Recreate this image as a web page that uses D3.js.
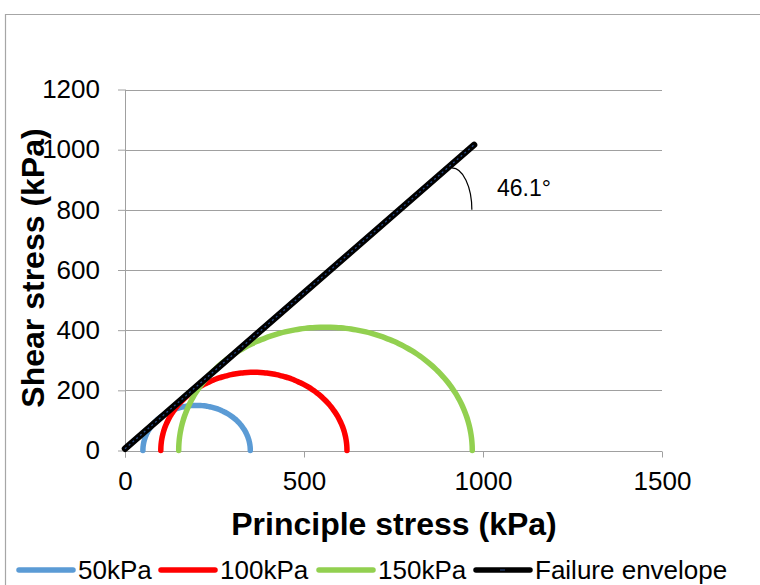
<!DOCTYPE html>
<html>
<head>
<meta charset="utf-8">
<script src="https://cdn.jsdelivr.net/npm/d3@7"></script>
<style>
  html, body { margin: 0; padding: 0; background: #fff; }
  svg { display: block; font-family: "Liberation Sans", Arial, sans-serif; }
</style>
</head>
<body>
<svg id="chart" width="760" height="585"></svg>
<script>
// Mohr circles: confining pressure label, minor and major principal stress (kPa)
const seriesNames = ["50kPa", "100kPa", "150kPa"];
const sigma3 = [50, 100, 150];
const sigma1 = [350, 620, 970];
const seriesColors = ["#5b9bd5", "#ff0000", "#92d050"];

// Failure envelope end points [normal stress, shear stress]
const envelopeX = [0, 975];
const envelopeY = [6, 1016];
const frictionAngleLabel = "46.1°";

const xTicks = [0, 500, 1000, 1500];
const yTicks = [0, 200, 400, 600, 800, 1000, 1200];

const svg = d3.select("#chart");
const x = d3.scaleLinear().domain([0, 1500]).range([125, 662]);
const y = d3.scaleLinear().domain([0, 1200]).range([450.5, 89.5]);
const gridColor = "#a0a0a0";

// chart frame
svg.append("path")
  .attr("d", "M5.5,585 V14.5 H760")
  .attr("fill", "none").attr("stroke", "#a6a6a6").attr("stroke-width", 1.2);

// horizontal gridlines
svg.append("g").selectAll("line").data(yTicks.filter(d => d > 0)).join("line")
  .attr("x1", x(0)).attr("x2", x(1500))
  .attr("y1", d => Math.round(y(d)) + 0.5).attr("y2", d => Math.round(y(d)) + 0.5)
  .attr("stroke", gridColor).attr("stroke-width", 1);

// y axis
const yAxis = svg.append("g").attr("transform", `translate(${x(0)},0)`)
  .call(d3.axisLeft(y).tickValues(yTicks).tickSize(7).tickPadding(18).tickFormat(d3.format("d")));
yAxis.select(".domain").attr("stroke", gridColor).attr("d", `M0.5,${y(1200)}V${y(0) + 7}`);
yAxis.selectAll(".tick line").attr("stroke", gridColor);
yAxis.selectAll(".tick text").attr("font-size", 26).attr("fill", "#000")
  .attr("font-family", "Liberation Sans, Arial, sans-serif");

// x axis
const xAxis = svg.append("g").attr("transform", `translate(0,${Math.round(y(0)) + 0.5})`)
  .call(d3.axisBottom(x).tickValues(xTicks).tickSize(6).tickPadding(14).tickFormat(d3.format("d")));
xAxis.select(".domain").attr("stroke", gridColor).attr("d", `M${x(0)},0H${x(1500)}`);
xAxis.selectAll(".tick line").attr("stroke", gridColor);
xAxis.selectAll(".tick text").attr("font-size", 26).attr("fill", "#000")
  .attr("font-family", "Liberation Sans, Arial, sans-serif");

// axis titles
svg.append("text").attr("x", 394).attr("y", 535).attr("text-anchor", "middle")
  .attr("font-size", 32).attr("font-weight", "bold").text("Principle stress (kPa)");
svg.append("text").attr("transform", "translate(44,268) rotate(-90)").attr("text-anchor", "middle")
  .attr("font-size", 32).attr("font-weight", "bold").text("Shear stress (kPa)");

// Mohr semicircles
const angles = d3.range(0, 181, 2).map(a => a * Math.PI / 180);
const circleLine = d3.line().x(d => x(d[0])).y(d => y(d[1])).curve(d3.curveCatmullRom);
sigma3.forEach((s3, i) => {
  const c = (sigma1[i] + s3) / 2, r = (sigma1[i] - s3) / 2;
  const pts = angles.map(t => [c + r * Math.cos(t), r * Math.sin(t)]);
  svg.append("path").attr("d", circleLine(pts))
    .attr("fill", "none").attr("stroke", seriesColors[i])
    .attr("stroke-width", 5.5).attr("stroke-linecap", "round");
});

// failure envelope
const envPts = envelopeX.map((v, i) => [v, envelopeY[i]]);
const envLine = d3.line().x(d => x(d[0])).y(d => y(d[1]));
svg.append("path").attr("d", envLine(envPts))
  .attr("fill", "none").attr("stroke", "#000").attr("stroke-width", 6.5).attr("stroke-linecap", "round");
svg.append("path").attr("d", envLine(envPts))
  .attr("fill", "none").attr("stroke", "#2a4d8a").attr("stroke-width", 1.3)
  .attr("stroke-dasharray", "2,3");

// friction angle marker
const ax = x(913), ay = y(800), rx = 20, ry = 42;
svg.append("path")
  .attr("d", `M${ax},${ay - ry} A${rx},${ry} 0 0 1 ${ax + rx},${ay}`)
  .attr("fill", "none").attr("stroke", "#000").attr("stroke-width", 1.2);
svg.append("text").attr("x", 497).attr("y", 196).attr("font-size", 23)
  .attr("font-family", "Liberation Sans, Arial, sans-serif").text(frictionAngleLabel);

// legend
const legendItems = seriesNames.map((n, i) => ({ name: n, color: seriesColors[i] }))
  .concat([{ name: "Failure envelope", color: "#000" }]);
const legendX = [18, 160, 318, 475];
const lg = svg.append("g");
legendItems.forEach((d, i) => {
  const g = lg.append("g").attr("transform", `translate(${legendX[i]},570)`);
  g.append("line").attr("x1", 1).attr("x2", 55).attr("y1", 0).attr("y2", 0)
    .attr("stroke", d.color).attr("stroke-width", 5.5).attr("stroke-linecap", "round");
  if (i === 3) {
    g.append("line").attr("x1", 25).attr("x2", 30).attr("y1", 0).attr("y2", 0)
      .attr("stroke", "#2a4d8a").attr("stroke-width", 1);
  }
  g.append("text").attr("x", 60).attr("y", 9).attr("font-size", 26).text(d.name);
});
</script>
</body>
</html>
